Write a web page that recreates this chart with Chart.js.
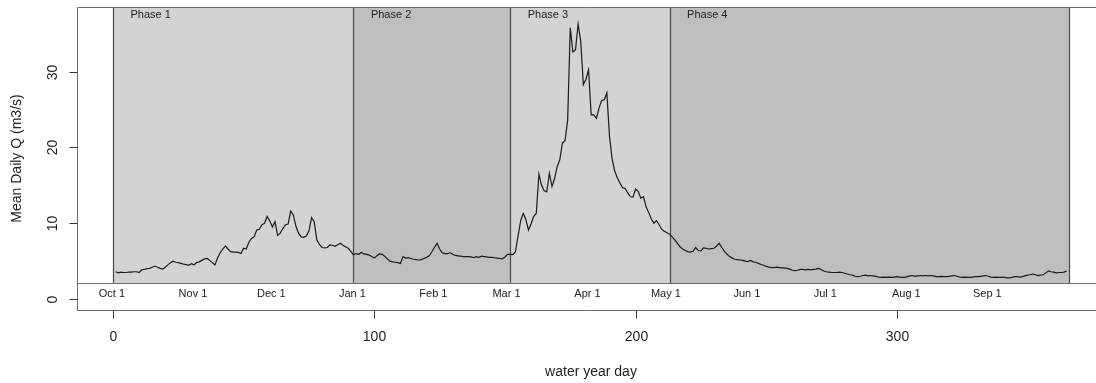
<!DOCTYPE html>
<html>
<head>
<meta charset="utf-8">
<script src="https://cdn.jsdelivr.net/npm/chart.js@4/dist/chart.umd.min.js"></script>
<style>
  body { margin: 0; background: #fff; }
  #wrap { width: 1096px; height: 383px; }
</style>
</head>
<body>
<div id="wrap"><canvas id="flowChart" width="1096" height="383"></canvas></div>

<script>
// mean daily discharge (m3/s), water year days 1..365
var meanQ = [
  3.6, 3.45, 3.55, 3.5, 3.5, 3.55, 3.55, 3.6, 3.6, 3.5,
  3.85, 3.9, 4.0, 4.05, 4.2, 4.35, 4.2, 4.05, 3.95, 4.2,
  4.5, 4.8, 5.0, 4.85, 4.8, 4.7, 4.6, 4.55, 4.45, 4.65,
  4.5, 4.8, 4.9, 5.1, 5.3, 5.35, 5.1, 4.8, 4.5, 5.4,
  6.1, 6.6, 7.0, 6.6, 6.25, 6.2, 6.2, 6.15, 6.0, 6.7,
  6.6, 7.5, 8.0, 8.2, 9.1, 9.2, 9.8, 10.0, 10.9, 10.3,
  9.5, 10.2, 8.4, 8.7, 9.3, 9.8, 9.9, 11.6, 11.1, 9.6,
  8.7, 8.2, 8.15, 8.3, 9.0, 10.75, 10.2, 7.8, 7.2, 6.8,
  6.75, 6.8, 7.15, 7.1, 6.95, 7.15, 7.35, 7.1, 6.9, 6.7,
  6.3, 5.85, 6.0, 5.9, 6.15, 5.95, 5.9, 5.8, 5.6, 5.4,
  5.7, 5.95, 5.9, 5.65, 5.3, 5.0, 4.9, 4.85, 4.8, 4.7,
  5.6, 5.4, 5.45, 5.35, 5.25, 5.2, 5.15, 5.2, 5.35, 5.5,
  5.7, 6.2, 6.8, 7.35, 6.6, 6.1, 6.0, 6.0, 6.1, 5.9,
  5.75, 5.7, 5.65, 5.6, 5.6, 5.6, 5.55, 5.45, 5.6, 5.5,
  5.65, 5.6, 5.55, 5.5, 5.5, 5.45, 5.4, 5.35, 5.3, 5.55,
  5.9, 5.9, 5.85, 6.2, 8.3, 10.3, 11.3, 10.5, 9.1, 9.9,
  10.9, 11.3, 16.5, 15.0, 14.3, 14.15, 16.6, 14.85, 15.9, 17.5,
  18.4, 20.6, 20.9, 23.6, 35.8, 32.6, 32.9, 36.3, 34.0, 28.3,
  29.0, 30.25, 24.3, 24.3, 23.85, 25.2, 26.2, 26.3, 27.2, 21.5,
  18.5, 16.9, 16.0, 15.3, 14.7, 14.6, 14.0, 13.5, 13.45, 14.5,
  14.2, 13.3, 13.5, 12.2, 11.4, 10.6, 10.0, 10.35, 9.8, 9.2,
  8.95, 8.75, 8.55, 8.2, 7.8, 7.35, 6.9, 6.6, 6.4, 6.25,
  6.2, 6.3, 6.8, 6.4, 6.35, 6.75, 6.7, 6.6, 6.65, 6.7,
  7.0, 7.35, 6.8, 6.3, 5.9, 5.6, 5.4, 5.25, 5.2, 5.15,
  5.1, 5.0, 4.95, 5.1, 4.9, 4.85, 4.7, 4.55, 4.45, 4.3,
  4.2, 4.15, 4.15, 4.2, 4.15, 4.1, 4.1, 4.05, 3.95, 3.8,
  3.75, 3.8, 3.9, 3.9, 3.85, 3.9, 3.85, 3.9, 3.95, 4.05,
  3.9, 3.7, 3.6, 3.55, 3.5, 3.5, 3.5, 3.55, 3.5, 3.4,
  3.3, 3.2, 3.15, 3.0, 2.95, 3.0, 3.1, 3.15, 3.05, 3.1,
  3.05, 3.0, 2.9, 2.85, 2.9, 2.85, 2.9, 2.85, 2.9, 2.95,
  2.9, 2.85, 2.85, 2.95, 3.05, 3.1, 3.0, 3.05, 3.1, 3.05,
  3.1, 3.05, 3.1, 3.05, 2.95, 2.95, 3.0, 2.95, 2.95, 3.0,
  3.05, 3.1, 3.0, 2.9, 2.85, 2.9, 2.85, 2.85, 2.9, 2.95,
  2.95, 3.0, 3.05, 3.1, 3.0, 2.9, 2.85, 2.9, 2.85, 2.85,
  2.9, 2.8, 2.8, 2.85, 2.95, 2.95, 2.9, 2.95, 3.05, 3.15,
  3.2, 3.3, 3.2, 3.1, 3.15, 3.2, 3.45, 3.7, 3.6, 3.55,
  3.45, 3.5, 3.5, 3.55, 3.7
];

// hydrograph phases (water year day boundaries)
var phaseNames = ["Phase 1", "Phase 2", "Phase 3", "Phase 4"];
var phaseStart = [0, 92, 152, 213];
var phaseEnd = [92, 152, 213, 366];
var phaseFill = ["#d3d3d3", "#bebebe", "#d3d3d3", "#bebebe"];
var phaseFloor = 2.1;

// first of each month on the water year day axis
var monthLabels = ["Oct 1", "Nov 1", "Dec 1", "Jan 1", "Feb 1", "Mar 1", "Apr 1", "May 1", "Jun 1", "Jul 1", "Aug 1", "Sep 1"];
var monthDays = [0, 31, 61, 92, 123, 151, 182, 212, 243, 273, 304, 335];

var xTicks = [0, 100, 200, 300];
var yTicks = [0, 10, 20, 30];

var points = meanQ.map(function (q, i) { return { x: i + 1, y: q }; });

var FONT = "'Liberation Sans', Arial, Helvetica, sans-serif";

// shaded phases, month labels, box and axes in R base-graphics style
var baseStyle = {
  id: "baseStyle",
  beforeDatasetsDraw: function (chart) {
    var ctx = chart.ctx, a = chart.chartArea;
    var xs = chart.scales.x, ys = chart.scales.y;
    var yFloor = ys.getPixelForValue(phaseFloor);
    ctx.save();
    ctx.beginPath();
    ctx.rect(a.left, a.top, a.right - a.left, a.bottom - a.top);
    ctx.clip();

    for (var i = 0; i < phaseNames.length; i++) {
      var x0 = xs.getPixelForValue(phaseStart[i]);
      var x1 = xs.getPixelForValue(phaseEnd[i]);
      ctx.fillStyle = phaseFill[i];
      ctx.fillRect(x0, a.top, x1 - x0, yFloor - a.top);
    }
    // phase borders
    ctx.strokeStyle = "#4a4a4a";
    ctx.lineWidth = 1.2;
    var edges = phaseStart.concat([phaseEnd[phaseEnd.length - 1]]);
    edges.forEach(function (d) {
      var px = Math.round(xs.getPixelForValue(d)) + 0.5;
      ctx.beginPath();
      ctx.moveTo(px, a.top);
      ctx.lineTo(px, yFloor);
      ctx.stroke();
    });
    // floor line across the plot
    ctx.strokeStyle = "#6e6e6e";
    ctx.lineWidth = 1;
    ctx.beginPath();
    ctx.moveTo(a.left, Math.round(yFloor) + 0.5);
    ctx.lineTo(a.right, Math.round(yFloor) + 0.5);
    ctx.stroke();

    // phase names
    ctx.fillStyle = "#222";
    ctx.font = "11px " + FONT;
    ctx.textAlign = "left";
    ctx.textBaseline = "middle";
    for (var j = 0; j < phaseNames.length; j++) {
      ctx.fillText(phaseNames[j], xs.getPixelForValue(phaseStart[j] + 6.7), a.top + 7.5);
    }
    // month labels under the floor line
    ctx.textAlign = "center";
    var yMonth = ys.getPixelForValue(0.65);
    for (var m = 0; m < monthLabels.length; m++) {
      ctx.fillText(monthLabels[m], xs.getPixelForValue(monthDays[m] - 0.4), yMonth);
    }
    ctx.restore();
  },
  afterDraw: function (chart) {
    var ctx = chart.ctx, a = chart.chartArea;
    var xs = chart.scales.x, ys = chart.scales.y;
    ctx.save();
    // box (open on the right, the plot region runs past the canvas edge)
    ctx.strokeStyle = "#6a6a6a";
    ctx.lineWidth = 1;
    var L = Math.round(a.left) + 0.5, T = Math.round(a.top) + 0.5, B = Math.round(a.bottom) + 0.5;
    ctx.beginPath();
    ctx.moveTo(a.right, T);
    ctx.lineTo(L, T);
    ctx.lineTo(L, B);
    ctx.lineTo(a.right, B);
    ctx.stroke();

    ctx.fillStyle = "#1e1e1e";
    ctx.font = "14px " + FONT;

    // x axis ticks and numbers
    ctx.strokeStyle = "#333";
    ctx.textAlign = "center";
    ctx.textBaseline = "middle";
    xTicks.forEach(function (v) {
      var px = Math.round(xs.getPixelForValue(v)) + 0.5;
      ctx.beginPath();
      ctx.moveTo(px, B);
      ctx.lineTo(px, B + 8);
      ctx.stroke();
      ctx.fillText(String(v), px, B + 27);
    });

    // y axis ticks and rotated numbers
    yTicks.forEach(function (v) {
      var py = Math.round(ys.getPixelForValue(v)) + 0.5;
      ctx.beginPath();
      ctx.moveTo(L, py);
      ctx.lineTo(L - 8, py);
      ctx.stroke();
      ctx.save();
      ctx.translate(L - 24, py);
      ctx.rotate(-Math.PI / 2);
      ctx.fillText(String(v), 0, 0);
      ctx.restore();
    });

    // axis titles
    ctx.fillText("water year day", 591, 372);
    ctx.save();
    ctx.translate(17, (a.top + a.bottom) / 2);
    ctx.rotate(-Math.PI / 2);
    ctx.fillText("Mean Daily Q (m3/s)", 0, 0);
    ctx.restore();
    ctx.restore();
  }
};

new Chart(document.getElementById("flowChart"), {
  type: "line",
  data: {
    datasets: [{
      data: points,
      borderColor: "#1a1a1a",
      borderWidth: 1.2,
      pointRadius: 0,
      tension: 0,
      fill: false
    }]
  },
  options: {
    responsive: false,
    animation: false,
    events: [],
    layout: { padding: { top: 7, left: 0, right: 0, bottom: 0 } },
    plugins: { legend: { display: false }, tooltip: { enabled: false } },
    scales: {
      x: {
        type: "linear",
        min: -13.78,
        max: 376.2,
        grid: { display: false },
        border: { display: false },
        ticks: { display: false },
        afterFit: function (s) { s.height = 73; }
      },
      y: {
        min: -1.45,
        max: 38.54,
        grid: { display: false },
        border: { display: false },
        ticks: { display: false },
        afterFit: function (s) { s.width = 77; }
      }
    }
  },
  plugins: [baseStyle]
});
</script>
</body>
</html>
